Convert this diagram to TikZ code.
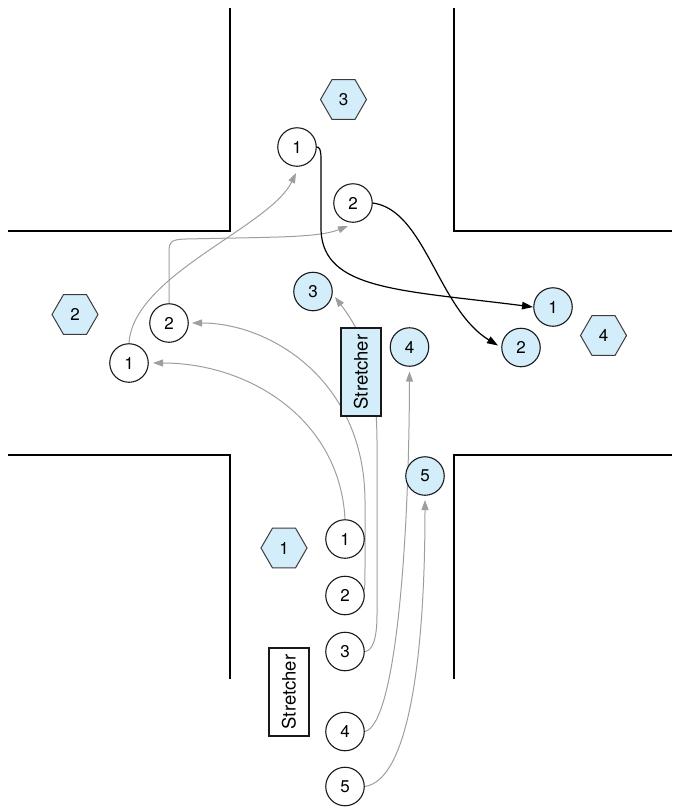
\documentclass[tikz,border=0pt]{standalone}
\usepackage{fontspec}
\setmainfont{TeX Gyre Heros}
\usetikzlibrary{shapes.geometric,arrows.meta,calc,backgrounds}
\definecolor{casualty}{RGB}{212,237,250}
\definecolor{track}{RGB}{158,158,158}
\definecolor{rim}{RGB}{25,25,25}
\begin{document}
\begin{tikzpicture}[x=1pt,y=-1pt,
  wall/.style={line width=2.5pt,line join=miter},
  person/.style={circle,draw=rim,fill=white,line width=1.1pt,minimum size=38.5pt,
    inner sep=0pt,font=\fontsize{17}{17}\selectfont},
  injured/.style={person,fill=casualty},
  hexmark/.style={regular polygon,regular polygon sides=6,draw=rim!85,fill=casualty,
    line width=1pt,minimum size=46pt,inner sep=0pt,font=\fontsize{17}{17}\selectfont},
  litter/.style={draw=rim,line width=1.1pt,minimum width=88pt,minimum height=40pt,
    inner sep=0pt,rotate=90,font=\fontsize{18.5}{18.5}\selectfont},
  walk/.style={draw=track,line width=1pt,-{Triangle[length=10pt,width=7pt]}},
  move/.style={draw=black,line width=1.2pt,-{Triangle[length=11pt,width=7.5pt]}}
]
\useasboundingbox (0,0) rectangle (678,807);

% corridor walls of the crossing
\draw[wall] (230,8) -- (230,231) -- (8,231);
\draw[wall] (454,8) -- (454,231) -- (672,231);
\draw[wall] (8,455) -- (230,455) -- (230,679);
\draw[wall] (672,455) -- (454,455) -- (454,679);

% rescuers (white) and casualties (blue)
\node[person] (w1t) at (297,147) {1};
\node[person] (w2t) at (353,203) {2};
\node[person] (w2l) at (169,323) {2};
\node[person] (w1l) at (129,363) {1};
\node[person] (p1) at (345,539) {1};
\node[person] (p2) at (345,595.5) {2};
\node[person] (p3) at (345,651.5) {3};
\node[person] (p4) at (345,731.5) {4};
\node[person] (p5) at (345,786.5) {5};

\node[injured] (b3) at (313,291.5) {3};
\node[injured] (b4) at (409.5,347) {4};
\node[injured] (b5) at (425,476) {5};
\node[injured] (b1) at (553,307) {1};
\node[injured] (b2) at (521,347.5) {2};

% hexagonal markers
\node[hexmark] (h3) at (343.5,99.5) {3};
\node[hexmark] (h2) at (75,314.5) {2};
\node[hexmark] (h4) at (603.5,335.5) {4};
\node[hexmark] (h1) at (284,548) {1};

% stretchers
\node[litter,fill=casualty] (s1) at (361,372) {Stretcher};
\node[litter,fill=white] (s2) at (289,692) {Stretcher};

\begin{pgfonlayer}{background}
% grey walking routes
\draw[walk] (p1.north) .. controls (340,420) and (250,363) .. ($(w1l.center)+(24,0)$);
\draw[walk] (p2.15) .. controls (365,585) .. (365,560) -- (365,500)
  .. controls (364,380) and (270,323) .. ($(w2l.center)+(23,0)$);
\draw[walk] (p3.east) .. controls (372,651) and (377,640) .. (377,615) -- (377,440)
  .. controls (376,360) and (360,330) .. ($(b3.center)+(22,5.5)$);
\draw[walk] (p4.east) .. controls (395,725) and (409,550) .. ($(b4.center)+(0,24.5)$);
\draw[walk] (p5.east) .. controls (410,780) and (425,650) .. ($(b5.center)+(0,24)$);
\draw[walk] (w1l.north) .. controls (133,275) and (270,227) .. ($(w1t.center)+(-1,26)$);
\draw[walk] (w2l.north) -- (169,252) .. controls (169,241) and (172,239.5) .. (186,239)
  .. controls (270,237) and (318,238) .. ($(w2t.center)+(-5,23)$);
% black moves
\draw[move] (w1t.east) .. controls (322,147) and (321,158) .. (321,175) -- (321,230)
  .. controls (323,290) and (400,290) .. ($(b1.center)+(-20,0)$);
\draw[move] (w2t.east) .. controls (425,210) and (438,309) .. ($(b2.center)+(-23,-2)$);
\end{pgfonlayer}
\end{tikzpicture}
\end{document}
